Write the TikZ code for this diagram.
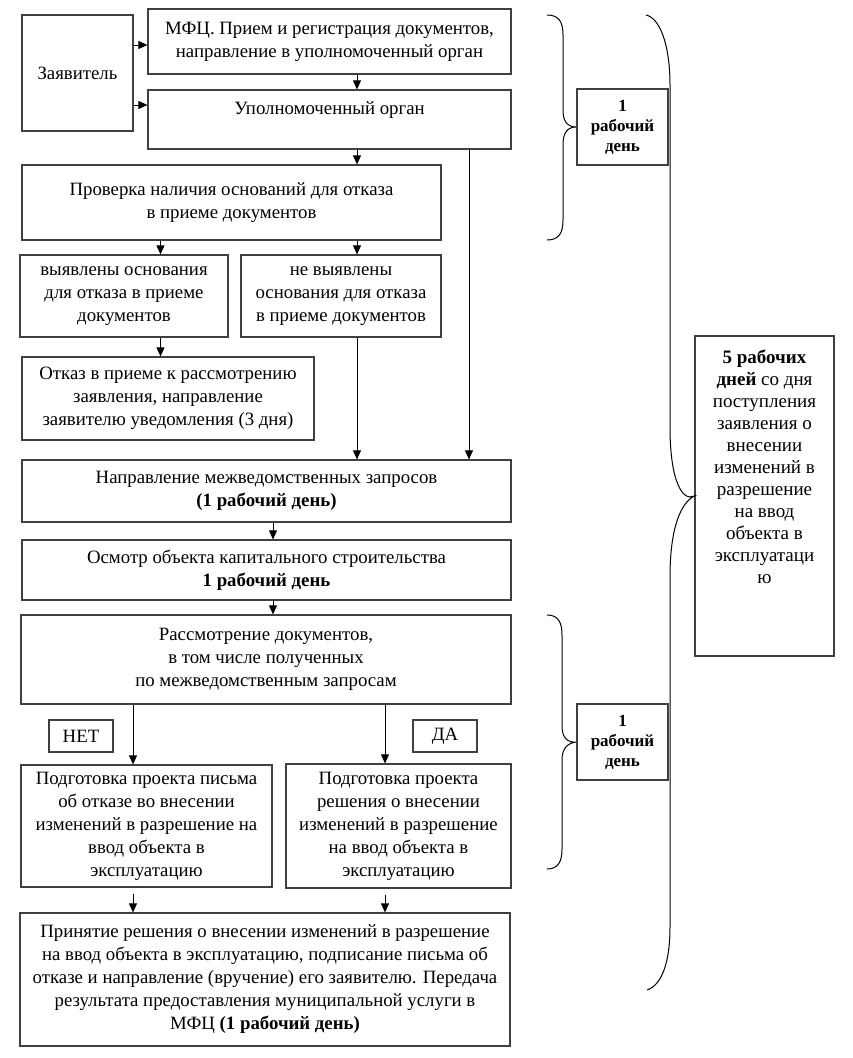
\documentclass[tikz,border=0pt]{standalone}
\usepackage{fontspec}
\setmainfont{Liberation Serif}
\usetikzlibrary{arrows.meta}
\newcommand{\fsz}{\fontsize{18.8}{23}\selectfont}
\newcommand{\fszb}{\fontsize{19}{22}\selectfont}
\newcommand{\fszs}{\fontsize{17}{20}\selectfont}
\begin{document}
\begin{tikzpicture}[x=1pt,y=-1pt,
  box/.style={draw=black!75, line width=1.2pt, align=center, inner sep=0pt, font=\fsz, text=black},
  arr/.style={-{Triangle[length=9pt,width=8pt]}, line width=0.8pt, draw=black},
  brace/.style={line width=1pt, draw=black}]
\useasboundingbox (0,0) rectangle (853,1058);
% boxes
\node[box, minimum width=111pt, minimum height=116pt] (zayav) at (77.5,73) {Заявитель};
\node[box, minimum width=363pt, minimum height=65pt] (mfc) at (329.5,41.5) {МФЦ. Прием и регистрация документов,\\направление в уполномоченный орган};
\node[box, minimum width=363pt, minimum height=59pt] (upol) at (329.5,119.5) {Уполномоченный орган\\ \mbox{}};
\node[box, minimum width=419pt, minimum height=75pt] (prov) at (231.5,202.5) {Проверка наличия оснований для отказа\\в приеме документов};
\node[box, minimum width=208pt, minimum height=82pt] (vyyav) at (124,296) {выявлены основания\\для отказа в приеме\\документов};
\node[box, minimum width=200pt, minimum height=82pt] (nevyyav) at (341,296) {не выявлены\\основания для отказа\\в приеме документов};
\node[box, minimum width=292pt, minimum height=83pt] (otkaz) at (168,398.5) {Отказ в приеме к рассмотрению\\заявления, направление\\заявителю уведомления (3 дня)};
\node[box, minimum width=489pt, minimum height=62pt] (napr) at (266.5,491) {Направление межведомственных запросов\\\textbf{(1 рабочий день)}};
\node[box, minimum width=489pt, minimum height=60pt] (osmotr) at (266.5,570) {Осмотр объекта капитального строительства\\\textbf{1 рабочий день}};
\node[box, minimum width=490pt, minimum height=89pt] (rassm) at (266,659.5) {Рассмотрение документов,\\в том числе полученных\\по межведомственным запросам};
\node[box, minimum width=64pt, minimum height=32pt] (net) at (81,736) {НЕТ};
\node[box, minimum width=64pt, minimum height=32pt] (da) at (445,736) {ДА};
\node[box, minimum width=251pt, minimum height=122pt] (podgL) at (146.5,826) {Подготовка проекта письма\\об отказе во внесении\\изменений в разрешение на\\ввод объекта в\\эксплуатацию};
\node[box, minimum width=225pt, minimum height=124pt] (podgR) at (398.5,826) {Подготовка проекта\\решения о внесении\\изменений в разрешение\\на ввод объекта в\\эксплуатацию};
\node[box, minimum width=490pt, minimum height=133pt] (final) at (265,979.5) {Принятие решения о внесении изменений в разрешение\\на ввод объекта в эксплуатацию, подписание письма об\\отказе и направление (вручение) его заявителю. Передача\\результата предоставления муниципальной услуги в\\МФЦ \textbf{(1 рабочий день)}};
\node[box, font=\fszs\bfseries, minimum width=91pt, minimum height=76pt] (day1) at (622.5,127) {1\\рабочий\\день};
\node[box, font=\fszs\bfseries, minimum width=91pt, minimum height=76pt] (day2) at (622.5,742) {1\\рабочий\\день};
\node[box, font=\fszb, minimum width=139pt, minimum height=320pt] (five) at (764.5,496) {\textbf{5 рабочих}\\\textbf{дней} со дня\\поступления\\заявления о\\внесении\\изменений в\\разрешение\\на ввод\\объекта в\\эксплуатаци\\ю\\[36pt]\mbox{}};
% guide coordinates
\coordinate (x133) at (133,0);
\coordinate (x160) at (160.5,0);
\coordinate (x273) at (273,0);
\coordinate (x357) at (357,0);
\coordinate (x385) at (385,0);
\coordinate (x469) at (469,0);
\coordinate (y45) at (0,45);
\coordinate (y105) at (0,105);
% arrows
\draw[arr] (zayav.east |- y45) -- (mfc.west |- y45);
\draw[arr] (zayav.east |- y105) -- (upol.west |- y105);
\draw[arr] (mfc.south -| x357) -- (upol.north -| x357);
\draw[arr] (upol.south -| x357) -- (prov.north -| x357);
\draw[arr] (prov.south -| x160) -- (vyyav.north -| x160);
\draw[arr] (prov.south -| x357) -- (nevyyav.north -| x357);
\draw[arr] (vyyav.south -| x160) -- (otkaz.north -| x160);
\draw[arr] (nevyyav.south -| x357) -- (napr.north -| x357);
\draw[arr] (upol.south -| x469) -- (napr.north -| x469);
\draw[arr] (napr.south -| x273) -- (osmotr.north -| x273);
\draw[arr] (osmotr.south -| x273) -- (rassm.north -| x273);
\draw[arr] (rassm.south -| x133) -- (podgL.north -| x133);
\draw[arr] (rassm.south -| x385) -- (podgR.north -| x385);
\draw[arr, shorten <=6pt] (podgL.south -| x133) -- (final.north -| x133);
\draw[arr, shorten <=6pt] (podgR.south -| x385) -- (final.north -| x385);
% braces
\draw[brace] (547,15) .. controls (559,15) and (563,22) .. (563,35) -- (563,110)
  .. controls (563,121) and (567,127) .. (day1.west)
  .. controls (567,127) and (563,133) .. (563,145) -- (563,220)
  .. controls (563,233) and (559,240) .. (547,240);
\draw[brace] (547,615) .. controls (558,615) and (562,622) .. (562,635) -- (562,726)
  .. controls (562,737) and (567,743) .. (day2.west)
  .. controls (567,743) and (562,749) .. (562,760) -- (562,849)
  .. controls (562,862) and (558,869) .. (547,869);
\draw[brace] (646,15) .. controls (660,18) and (670,45) .. (670,85) -- (670,427)
  .. controls (670,480) and (682,502) .. (five.west)
  .. controls (682,502) and (670,525) .. (670,577) -- (670,927)
  .. controls (670,962) and (662,985) .. (647,990);
\end{tikzpicture}
\end{document}
